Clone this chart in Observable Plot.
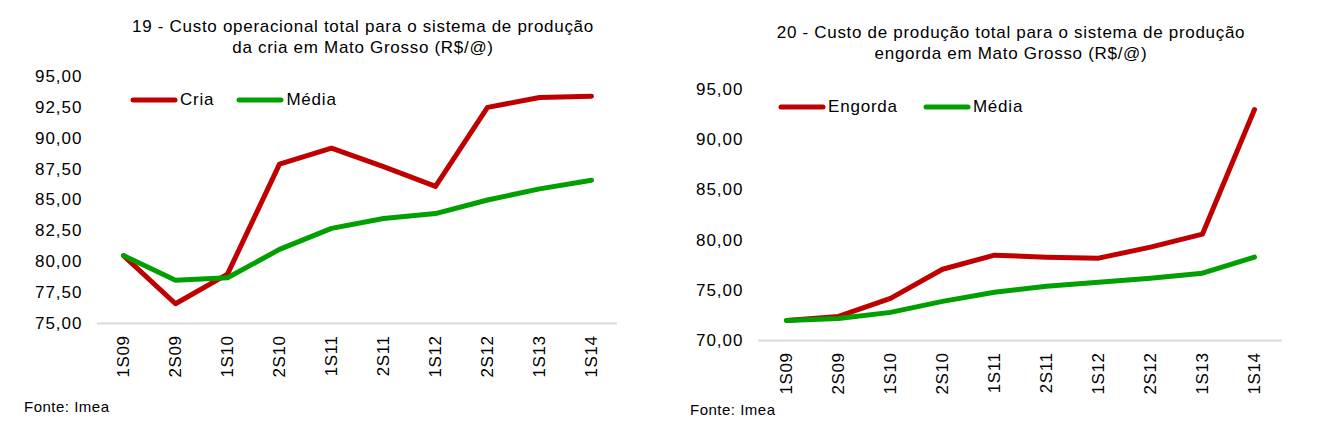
<!DOCTYPE html>
<html>
<head>
<meta charset="utf-8">
<script src="https://cdn.jsdelivr.net/npm/d3@7"></script>
<script src="https://cdn.jsdelivr.net/npm/@observablehq/plot@0.6"></script>
<style>
  html, body { margin: 0; padding: 0; background: #fff; }
  body { width: 1320px; height: 439px; position: relative; overflow: hidden;
         font-family: "Liberation Sans", Arial, sans-serif; color: #000; }
  .abs { position: absolute; }
  .title { font-size: 17px; line-height: 21px; letter-spacing: 0.7px; text-align: center; white-space: nowrap; }
  .caption { font-size: 15px; letter-spacing: 0.5px; }
  .legend { font-size: 17px; letter-spacing: 0.8px; display: flex; align-items: center; white-space: nowrap; }
  .legend svg { display: block; }
  .legend .lab { margin-left: 2px; }
</style>
</head>
<body>
<div id="root"></div>
<script>
const periods = ["1S09","2S09","1S10","2S10","1S11","2S11","1S12","2S12","1S13","1S14"];
const cria = [80.5, 76.6, 79.0, 87.9, 89.2, 87.7, 86.1, 92.5, 93.3, 93.4];
const mediaCria = [80.5, 78.5, 78.7, 81.0, 82.7, 83.5, 83.9, 85.0, 85.9, 86.6];
const engorda = [72.0, 72.4, 74.2, 77.1, 78.5, 78.3, 78.2, 79.3, 80.6, 93.0];
const mediaEngorda = [72.0, 72.2, 72.8, 73.9, 74.8, 75.4, 75.8, 76.2, 76.7, 78.3];
const ticks1 = [75, 77.5, 80, 82.5, 85, 87.5, 90, 92.5, 95];
const ticks2 = [70, 75, 80, 85, 90, 95];
const title1 = ["19 - Custo operacional total para o sistema de produção", "da cria em Mato Grosso (R$/@)"];
const title2 = ["20 - Custo de produção total para o sistema de produção", "engorda em Mato Grosso (R$/@)"];
const legend1 = ["Cria", "Média"];
const legend2 = ["Engorda", "Média"];
const source = "Fonte: Imea";

const RED = "#C00000", GREEN = "#00A000";
const fmt = d => d.toFixed(2).replace(".", ",");
const FONT = '"Liberation Sans", Arial, sans-serif';

function makeChart(cfg) {
  const rows = [];
  periods.forEach((p, i) => {
    rows.push({period: p, value: cfg.main[i], series: cfg.legend[0]});
    rows.push({period: p, value: cfg.media[i], series: cfg.legend[1]});
  });
  const svg = Plot.plot({
    width: 660, height: cfg.height,
    marginTop: cfg.mt, marginBottom: cfg.mb, marginLeft: cfg.ml, marginRight: cfg.mr,
    style: {fontFamily: FONT, fontSize: "17px", color: "#000", background: "transparent", overflow: "visible"},
    x: {type: "point", domain: periods, padding: 0.5},
    y: {domain: cfg.domain},
    color: {domain: cfg.legend, range: [RED, GREEN]},
    marks: [
      Plot.ruleY([cfg.domain[0]], {stroke: "#d9d9d9", strokeWidth: 2}),
      Plot.line(rows, {x: "period", y: "value", z: "series", stroke: "series", strokeWidth: 5, strokeLinejoin: "round", strokeLinecap: "round"}),
      Plot.axisY({ticks: cfg.ticks, tickFormat: fmt, tickSize: 0, tickPadding: 15, label: null, fontSize: 17}),
      Plot.axisX({tickSize: 0, tickRotate: -90, tickPadding: 12, label: null, fontSize: 17})
    ]
  });
  svg.querySelectorAll('g[aria-label="y-axis tick label"] text').forEach(t => t.style.letterSpacing = "1px");
  svg.querySelectorAll('g[aria-label="x-axis tick label"] text').forEach(t => t.style.letterSpacing = "0.6px");
  return svg;
}

function legendEl(items, left, top, gap) {
  const d = document.createElement("div");
  d.className = "abs legend";
  d.style.left = left + "px"; d.style.top = top + "px";
  items.forEach((name, i) => {
    const s = document.createElementNS("http://www.w3.org/2000/svg", "svg");
    s.setAttribute("width", 48); s.setAttribute("height", 10);
    const l = document.createElementNS("http://www.w3.org/2000/svg", "line");
    l.setAttribute("x1", 3); l.setAttribute("x2", 45); l.setAttribute("y1", 5); l.setAttribute("y2", 5);
    l.setAttribute("stroke", i === 0 ? RED : GREEN); l.setAttribute("stroke-width", 5);
    l.setAttribute("stroke-linecap", "round");
    s.appendChild(l);
    if (i > 0) s.style.marginLeft = gap + "px";
    d.appendChild(s);
    const t = document.createElement("span");
    t.className = "lab"; t.textContent = name;
    d.appendChild(t);
  });
  return d;
}

function place(el, left, top) { el.classList.add("abs"); el.style.left = left + "px"; el.style.top = top + "px"; return el; }

const root = document.getElementById("root");

// Chart 1
const t1 = document.createElement("div");
t1.className = "title"; t1.style.width = "660px"; t1.style.paddingLeft = "66px"; t1.style.boxSizing = "border-box";
t1.innerHTML = title1.join("<br>");
root.appendChild(place(t1, 0, 16));
const c1 = makeChart({main: cria, media: mediaCria, legend: legend1, domain: [75, 95], ticks: ticks1,
  height: 330, mt: 18, mb: 65, ml: 97, mr: 43});
root.appendChild(place(c1, 0, 58));
root.appendChild(legendEl(legend1, 130, 90, 22));
const f1 = document.createElement("div"); f1.className = "caption"; f1.textContent = source;
root.appendChild(place(f1, 24, 398));

// Chart 2
const t2 = document.createElement("div");
t2.className = "title"; t2.style.width = "660px"; t2.style.paddingLeft = "42px"; t2.style.boxSizing = "border-box";
t2.innerHTML = title2.join("<br>");
root.appendChild(place(t2, 660, 22));
const c2 = makeChart({main: engorda, media: mediaEngorda, legend: legend2, domain: [70, 95], ticks: ticks2,
  height: 332, mt: 25, mb: 56, ml: 98, mr: 38});
root.appendChild(place(c2, 660, 64));
root.appendChild(legendEl(legend2, 778, 97, 25));
const f2 = document.createElement("div"); f2.className = "caption"; f2.textContent = source;
root.appendChild(place(f2, 690, 401));
</script>
</body>
</html>
